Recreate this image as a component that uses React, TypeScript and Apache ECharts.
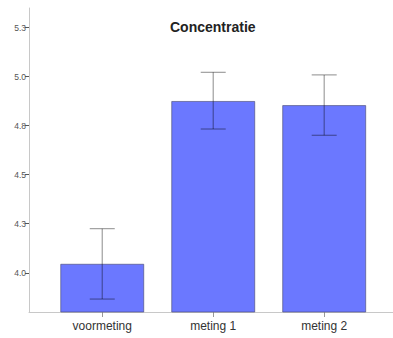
import React, { useEffect, useRef } from "react";
import * as echarts from "echarts";

const categories = ["voormeting", "meting 1", "meting 2"];
const means = [4.046, 4.876, 4.855];
const errLow = [3.866, 4.733, 4.701];
const errHigh = [4.225, 5.022, 5.009];
const yTickValues = [4.0, 4.25, 4.5, 4.75, 5.0, 5.25];
const yTickLabels = ["4.0", "4.3", "4.5", "4.8", "5.0", "5.3"];
const chartTitle = "Concentratie";

export default function App() {
  const ref = useRef<HTMLDivElement>(null);
  useEffect(() => {
    if (!ref.current) return;
    const chart = echarts.init(ref.current, undefined, { renderer: "svg" });
    const barData = means.map((v, i) => [i, v]);
    const errData = means.map((_, i) => [i, errLow[i], errHigh[i]]);
    chart.setOption({
      animation: false,
      title: {
        text: chartTitle,
        left: 170,
        top: 20,
        padding: 0,
        textStyle: {
          fontFamily: "Liberation Sans, Arial, sans-serif",
          fontSize: 14,
          fontWeight: "bold",
          color: "#222",
        },
      },
      grid: { left: 29, right: 0, top: 8, bottom: 26 },
      xAxis: {
        type: "value",
        min: -0.66,
        max: 2.62,
        splitLine: { show: false },
        axisLine: { show: true, onZero: false, lineStyle: { color: "#c8c8c8", width: 1 } },
        axisTick: {
          show: true,
          length: 5,
          customValues: [0, 1, 2],
          lineStyle: { color: "#999" },
        },
        axisLabel: {
          customValues: [0, 1, 2],
          formatter: (v: number) => categories[Math.round(v)] ?? "",
          fontFamily: "Liberation Sans, Arial, sans-serif",
          fontSize: 12,
          color: "#333",
          margin: 8,
        },
      },
      yAxis: {
        type: "value",
        min: 3.8,
        max: 5.35,
        splitLine: { show: false },
        axisLine: { show: true, onZero: false, lineStyle: { color: "#c8c8c8", width: 1 } },
        axisTick: {
          show: true,
          length: 4,
          customValues: yTickValues,
          lineStyle: { color: "#555" },
        },
        axisLabel: {
          customValues: yTickValues,
          formatter: (v: number) => {
            const idx = yTickValues.findIndex((t) => Math.abs(t - v) < 1e-6);
            return idx >= 0 ? yTickLabels[idx] : "";
          },
          fontFamily: "Liberation Sans, Arial, sans-serif",
          fontSize: 8.5,
          color: "#555",
          margin: 3,
        },
      },
      series: [
        {
          type: "bar",
          data: barData,
          barWidth: 84,
          itemStyle: {
            color: "#6b78ff",
            borderColor: "rgba(70,70,110,0.6)",
            borderWidth: 1,
          },
        },
        {
          type: "custom",
          data: errData,
          encode: { x: 0, y: [1, 2] },
          z: 10,
          renderItem: (params: any, api: any) => {
            const x = api.value(0);
            const lo = api.coord([x, api.value(1)]);
            const hi = api.coord([x, api.value(2)]);
            const half = 12.5;
            const style = { stroke: "rgba(0,0,0,0.38)", lineWidth: 1.2 };
            return {
              type: "group",
              children: [
                { type: "line", shape: { x1: hi[0], y1: hi[1], x2: lo[0], y2: lo[1] }, style },
                { type: "line", shape: { x1: hi[0] - half, y1: hi[1], x2: hi[0] + half, y2: hi[1] }, style },
                { type: "line", shape: { x1: lo[0] - half, y1: lo[1], x2: lo[0] + half, y2: lo[1] }, style },
              ],
            };
          },
        },
      ],
    });
    return () => chart.dispose();
  }, []);
  return (
    <div
      ref={ref}
      style={{ position: "fixed", left: 0, top: 0, width: 393, height: 338, background: "#fff" }}
    />
  );
}
